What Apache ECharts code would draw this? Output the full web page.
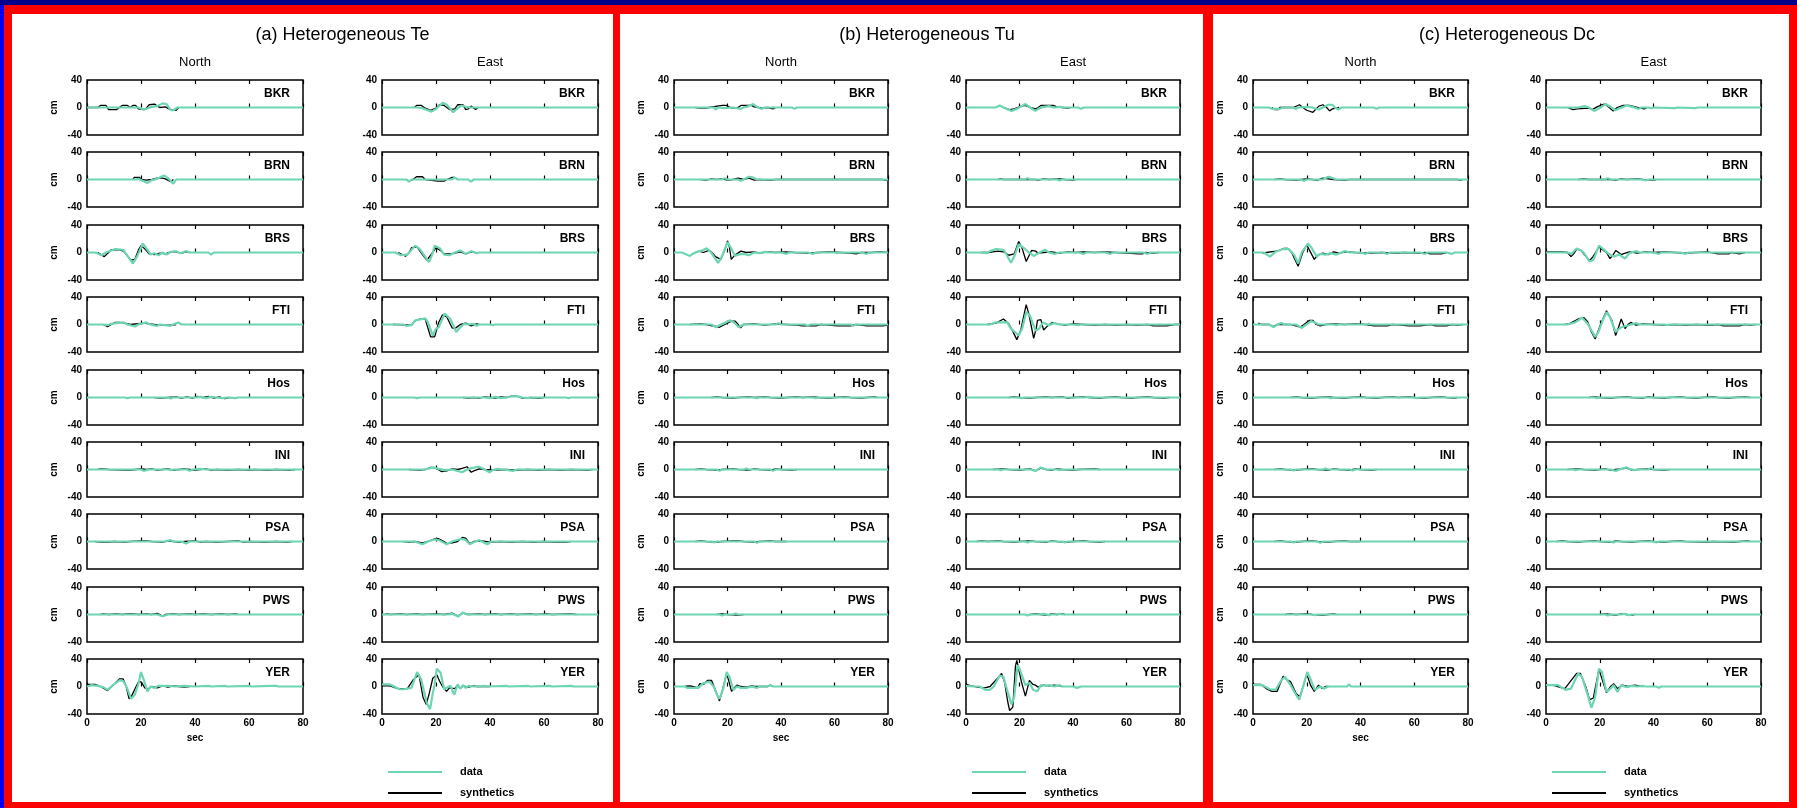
<!DOCTYPE html>
<html><head><meta charset="utf-8">
<script src="https://cdn.jsdelivr.net/npm/echarts@6/dist/echarts.min.js"></script>
<style>html,body{margin:0;padding:0;background:#00008b;}#c{width:1797px;height:808px;}</style>
</head><body><div id="c"></div>
<script>
// ---------------- DATA ----------------
const stations = ['BKR','BRN','BRS','FTI','Hos','INI','PSA','PWS','YER'];
const panelTitles = ['(a) Heterogeneous Te','(b) Heterogeneous Tu','(c) Heterogeneous Dc'];
const componentNames = ['North','East'];
const xTickValues = [0,20,40,60,80];
const yTickLabels = ['-40','0','40'];
const legendNames = ['data','synthetics'];

// (a) Heterogeneous Te — North
const teNorthData = [
 [[0,0],[19,0],[21,-3],[22,-2],[24,1],[26,2],[28,6],[29.5,5],[31,-4],[32,-4],[33.5,0],[80,0]],
 [[0,0],[18,0],[19,1],[22.4,-5],[24,-1],[26,1],[28.5,6],[30,2],[32,-6],[33,0],[80,0]],
 [[0,0],[3,0],[5.4,-4],[7,0],[9,3],[10.5,5],[13.4,4],[15,-5],[17,-16],[18.5,-6],[20.7,13],[22,6],[23.6,-3],[25,-1],[26.5,-4],[28,0],[29.5,-3],[31,1],[33,2],[34.5,-1],[36.7,2],[38,0],[45,0],[46,-3],[47,0],[80,0]],
 [[0,0],[6,0],[7.6,-1],[9,1],[11,2],[13.5,3],[15,0],[17.8,-3],[19,0],[22,3],[23.5,0],[25.8,-2],[27,0],[31,-2],[32,0],[33.8,3],[35,0],[52,0],[52.7,-2],[53.5,0],[64.5,0],[65,-2],[65.5,0],[80,0]],
 [[0,0],[14,0],[15,-1],[16,0],[30,0],[31,-1.5],[32,0],[40,0],[42,1],[44,-1],[46,1],[48,0],[50,-1],[52,0],[55,-1],[56,0],[80,0]],
 [[0,0],[20,0],[21,-2],[23,0],[30,0],[31,-1],[32,0],[37,0],[38,-2],[39,0],[42,1],[44,0],[80,0]],
 [[0,0],[29,0],[30.8,2],[32,0],[35,0],[36.7,-3],[38,0],[80,0]],
 [[0,0],[26,0],[28,-2.5],[30,0],[80,0]],
 [[0,0],[1.7,2],[4,1],[6,-1],[7.6,-5],[10,3],[12,9],[13.4,8],[14.8,-2],[16.3,-18],[17.7,-12],[19,3],[20,21],[21,10],[22.4,-7],[23.5,0],[25,-2],[26.5,1],[30,1],[33,0],[36,1],[40,0],[45,1],[46,0],[51,1],[52,0],[60,1],[61,0],[68,1],[70,1],[71,0],[80,0]]
];
const teNorthSynth = [
 [[0,0],[4,0],[5,3],[7,3],[8,-3],[11,-3],[12,0],[13,3],[15,3],[16,0],[17,3],[18,3],[19,-2],[21,-3],[22,-1],[23,4],[25,5],[26,2],[27,0],[29,1],[31,-3],[33,-4],[34,0]],
 [[17,0],[17.5,3],[19.5,3],[20,0],[22,-1],[24,0],[26,2],[28,2],[29,1],[31,-3],[32,0]],
 [[4,0],[6.4,-6],[8,0],[9,4],[12,4],[13.5,2],[16.3,-11],[17.7,-10],[19,3],[20,10],[21.5,5],[23,-2],[25,-3],[27,-1],[29,-2],[31,1],[33,1],[35,-1],[36.7,1],[38,0]],
 [[6,0],[7.6,-3],[9,0],[10.5,3],[12,3],[14,2],[16,0],[21,2],[23,1],[25,0],[30,-1],[32,-1],[33,0]],
 [[25,0],[27,-1],[30,0],[33,1],[35,-1],[37,1],[39,-1],[41,1.5],[43,0],[45,1.5],[47,-1],[49,1],[51,-1.5],[53,0]],
 [[4,0],[5,1],[6,1],[8,0],[14,-1],[16,-1],[18,0],[20,1],[22,0],[24,1],[26,-1],[28,0],[30,1],[32,-1],[34,0],[36,1],[38,0],[40,-1],[42,0],[44,1],[46,-1],[48,0],[52,-1],[56,0],[60,-1],[62,0],[67,-1],[70,0],[75,-1],[77,0]],
 [[3,0],[5,-1],[8,-1],[10,0],[14,-1],[16,0],[20,1],[22,1],[24,0],[28,-1],[30,1],[32,0],[34,-1],[36,0],[40,1],[42,-1],[44,0],[48,-1],[52,0],[56,1],[58,-1],[60,0],[66,-1],[70,0],[74,-1],[76,0]],
 [[5,0],[6,1],[8,0],[11,1],[13,0],[15,1],[17,1],[19,0],[22,1],[24,0],[26,1.5],[27,0],[28,-3],[29,0],[32,1],[34,0],[38,1],[40,0],[43,1],[46,0],[50,1],[52,0],[55,1],[56,0]],
 [[0,3],[3,3],[5,0],[7.6,-6],[10.5,5],[12,11],[13.4,11],[14.5,0],[15.6,-18],[16.5,-14],[17.7,-4],[19.2,8],[20.2,6],[21.4,-2],[22.5,-4],[24,0],[26,-2],[28,1],[30,-1],[32,1],[34,0],[36,-1],[38,0]]
];
// (a) Heterogeneous Te — East
const teEastData = [
 [[0,0],[13,0],[15,-1],[18.3,-6],[20,-2],[22.5,7],[24,4],[26.4,-7],[28,-1],[29.5,3],[31,1],[33,0],[80,0]],
 [[0,0],[9,0],[10,-3],[11,0],[26,0],[26.8,3],[28,0],[32,0],[32.9,-3],[34,0],[80,0]],
 [[0,0],[5,0],[7,-4],[9.4,-3],[12.3,10],[14,5],[17.4,-14],[18.5,-4],[19.5,10],[21.5,6],[23,-3],[25,-4],[27,0],[29,3],[31,-2],[33,2],[35,-1],[36,0],[80,0]],
 [[0,0],[8,0],[9,-2],[11,-1],[12.3,6],[16,9],[17,3],[18.8,-16],[20,-6],[21,-4],[23.2,16],[25.3,8],[27.5,-11],[29,-4],[30.4,1],[32,0],[34,1],[35,-2],[36,0],[40,0],[41,-1],[42,0],[64,0],[64.4,-2],[65,0],[80,0]],
 [[0,0],[12,0],[13,-1],[14,0],[38,0],[40,-1],[42,1],[44,-1],[46,0],[48,1.5],[50,2],[52,0],[54,-1],[56,0],[68,0],[69,-1],[70,0],[80,0]],
 [[0,0],[16,0],[19,3],[21,1],[23,-1],[26,0],[29.7,-4],[31,-1],[33,2],[36,4],[38,0],[39.8,-4],[41,-1],[43,1],[45,0],[48.5,-2],[50,0],[80,0]],
 [[0,0],[12,0],[15,-4],[17,0],[19.5,3],[21,2],[24,-4],[26,0],[29.5,4],[31,2],[32.5,-4],[34,-1],[36,2],[37,0],[39,-4],[40.5,0],[44,0],[80,0]],
 [[0,0],[24,0],[26,1],[28.2,-3],[30,3],[31.5,0],[80,0]],
 [[0,3],[3,3],[4.5,0],[6.5,-4],[8,-4],[10.9,-2],[13,21],[14.5,10],[16.6,-24],[17.8,-33],[18.8,-10],[19.5,3],[20.3,26],[21.7,20],[23,-4],[25.3,1],[26.8,-12],[28,3],[29,-3],[30,2],[31,-2],[32,1],[34,0],[38,1],[39,0],[46,1],[47,0],[54,1],[55,0],[62,1],[63,0],[70,1],[71,0],[80,0]]
];
const teEastSynth = [
 [[12,0],[12.8,3],[14.6,3],[16,-1],[18,-4],[20,-1],[21.3,4],[23,3],[25,-3],[27,-2],[28,4],[30,4],[31,-3],[32,-2],[33,2],[34.7,-3],[35.5,0]],
 [[9,0],[10,-2],[11,-1],[12.8,4],[15,4],[16,0],[20.7,-2.5],[23,-2.5],[24,0],[26,3],[27,3],[28,0]],
 [[6,0],[8.7,-5.5],[10,0],[11,7],[13,8],[15,-3],[16.6,-11],[18,-4],[20,7],[22,2],[23,-2],[25,-2],[27,-1],[29,1],[31,-2],[33,1],[34.5,0]],
 [[4,0],[5,0],[10.9,-1],[12,5],[14,8],[16,8],[18,-18],[19.5,-18],[21,3],[22.4,14],[24,11],[26,-5],[27,-6],[29,0],[31,2],[33,-2],[35,1],[36,0]],
 [[30,0],[32,-1],[34,0],[36,-1],[38,1],[40,0],[42,-1],[44,1],[46,0],[48,2],[50,2],[52,-1],[55,0],[58,-1],[60,0]],
 [[10,0],[14,-1],[16,0],[18,3],[20,2],[22,-3],[24,-2],[26,1],[28,0],[30,2],[31.5,4],[33,-4],[34,-2],[36,1],[38,0],[42,-1],[46,0],[50,-1],[54,0],[58,-1],[62,0],[66,-1],[70,0],[76,-1],[78,0]],
 [[8,0],[10,-1],[12,0],[15,-2],[17,0],[19.5,4],[21,4],[23,0],[24,-3],[26,-2],[28,0],[29.7,6],[31,5],[32.5,-3],[34,0],[37,1],[40,-1],[44,0],[48,-1],[52,0],[56,-1],[60,0],[64,-1],[68,-1],[70,0]],
 [[1,0],[2,1],[3,0],[7,1],[9,0],[13,1],[15,0],[20,1],[23,0],[26,2],[28,-2],[29,0],[30,2],[32,0],[36,1],[38,0],[42,1],[44,0],[48,1],[50,0],[55,1],[57,0],[61,1],[63,0],[70,1],[72,0]],
 [[0,1],[3,1],[5.8,-3],[9.4,-3],[11.6,10],[13.7,17],[15.2,-16],[16.4,-26],[17.5,-10],[18.8,12],[20.3,17],[21.3,8],[22.4,0],[23.9,-7],[25,-2],[27,-3],[28,2],[29,-3],[30,1],[32,-1],[34,1],[35,0],[40,0]]
];

// (b) Heterogeneous Tu — North
const tuNorthData = [
 [[0,0],[9,0],[9.6,-2],[11,0],[15,0],[15.5,-3],[16.5,0],[19,-1],[22,0],[25,-2],[26,0],[28,2],[29.6,5],[31,1],[32.6,-2],[34,0],[44,0],[45,-2],[46,0],[80,0]],
 [[0,0],[18,0],[19,2],[20,0],[24,0],[25,-2],[26,0],[28,4],[29.5,3],[31,0],[80,0]],
 [[0,0],[3,0],[5.9,-5],[7,-2],[8.7,1],[10.5,3],[12.2,6],[13.5,2],[16.5,-15],[17.9,-6],[20,15],[21.4,6],[22.8,-5],[24,-3],[26,-2],[28,-4],[30,0],[32,-1],[34,1],[36,0],[40,0],[42,-2],[43,0],[50,0],[52,-2],[53,0],[60,0],[61,-1],[62,0],[70,0],[72,-2],[73,0],[80,0]],
 [[0,0],[14,0],[15.7,-4],[17,-1],[19.3,3],[21,6],[22.5,3],[24.2,-4],[26,0],[38,0],[39,2],[40,0],[49,0],[50,-2],[51,0],[66,0],[67,-2],[68,0],[80,0]],
 [[0,0],[30,0],[31,-1],[32,0],[52,0],[53,-1],[54,0],[80,0]],
 [[0,0],[16,0],[17,-2],[18,0],[26,0],[27,1.5],[28,0],[36,0],[37,-2],[38,0],[80,0]],
 [[0,0],[14,0],[15,-1.5],[16,0],[30,0],[31,-2],[32,0],[80,0]],
 [[0,0],[17,0],[18,-1.5],[19,0],[22,0],[23,1.5],[24,0],[80,0]],
 [[0,0],[4,0],[5,-2],[9,-2],[11,5],[13.3,7],[14.8,0],[16.3,-14],[17,-18],[18.5,-2],[19.7,21],[20.7,14],[22.2,-5],[23.5,0],[25,-2],[27,-2],[29,0],[31,-2],[32,0],[35,0],[36,2],[37,0],[80,0]]
];
const tuNorthSynth = [
 [[8,0],[9.6,-1],[12,-1],[13,0],[18,3],[19.5,3],[21,0],[22,-1],[24,0],[25,3],[28.9,3],[30,1],[31.5,0],[33,-1],[35,0],[37,-2],[38,0]],
 [[10,0],[12,-1],[14,1],[16,0],[18,1],[20,-1],[22,0],[24,2],[26,0],[28,2],[30,-1],[32,0],[36,-1],[38,0],[78,0],[79,-1],[80,0]],
 [[8,0],[9.4,2],[10,2],[11,0],[13,3],[14,1],[15.5,-6],[17.5,-10],[19,4],[20,17],[20.7,8],[21.4,-10],[22.5,-5],[23.5,-2],[25,2],[27,0],[30,1],[32,-1],[35,1],[38,0],[42,1],[45,0],[50,-1],[54,0],[58,1],[62,0],[66,-1],[68,-2],[70,0],[74,0],[77,1],[80,0]],
 [[6,0],[10,1],[12,0],[17,-4],[19,0],[21.4,5],[22.8,5],[24,0],[24.9,-5],[26,0],[30,1],[34,-1],[38,1],[42,0],[46,-1],[48,-2],[53,-2],[55,0],[58,-1],[61,-2],[66,-2],[68,0],[70,-1],[72,-2],[78,-2],[80,-1]],
 [[14,0],[16,1],[18,0],[22,-1],[24,0],[28,1],[30,0],[34,1],[36,0],[40,-1],[42,0],[46,1],[48,0],[52,1],[54,0],[58,-1],[60,0],[64,1],[66,0],[70,-1],[72,0],[75,1],[76,0]],
 [[8,0],[10,1],[12,0],[16,-1],[18,0],[22,1],[24,0],[28,-1],[30,1],[32,0],[36,-1],[38,1],[40,0],[44,-1],[46,0]],
 [[8,0],[10,1],[12,0],[16,-1],[18,0],[22,1],[24,1],[26,0],[30,-1],[32,0],[36,1],[38,0],[42,0]],
 [[16,0],[18,1],[20,0],[24,-1],[26,0]],
 [[4,0],[5.9,1],[7,0],[8.9,-2],[9.6,4],[11,3],[12.6,9],[14,9],[15.5,-5],[17,-21],[18,-7],[19.7,19],[20.5,8],[21.5,-7],[22.5,-2],[23.5,2],[25,0],[27,-1],[29,1],[30,0],[35,0],[36,2],[37,0]]
];
// (b) Heterogeneous Tu — East
const tuEastData = [
 [[0,0],[11,0],[12.6,3],[14,0],[17,-5],[19,-2],[22.2,5],[24,0],[25.9,-5],[27,-2],[29,1],[31,2],[33,0],[35,1],[37,0],[42,0],[43,-2],[44,0],[53.5,0],[54,-2],[54.5,0],[61.5,0],[62,-2],[62.5,0],[80,0]],
 [[0,0],[22,0],[23,2],[24,0],[34,0],[35,-1.5],[36,0],[80,0]],
 [[0,0],[6,0],[7.7,-1],[9,2],[11.2,5],[14,4],[15.3,-4],[16.8,-15],[18,-6],[19.7,12],[21.8,6],[23.2,1],[25.3,-5],[27,-1],[29.5,4],[31,0],[33,-2],[35,0],[42,0],[44,-2],[45,0],[52,0],[54,-2],[55,0],[66,0],[68,-2],[69,0],[80,0]],
 [[0,0],[9,0],[11,3],[15.4,3],[16.8,-6],[19.7,-16],[21,-6],[22.5,18],[23.9,13],[26,-9],[27.4,-6],[28.8,3],[31,-1],[33,2],[35,0],[40,0],[42,-1],[43,0],[80,0]],
 [[0,0],[20,0],[21,-1],[22,0],[44,0],[46,1],[48,0],[80,0]],
 [[0,0],[12,0],[13,-1],[14,0],[24,0],[26,-2],[28,3],[30,0],[34,0],[35,-1],[36,0],[80,0]],
 [[0,0],[22,0],[23,-1.5],[24,0],[36,0],[37,-1.5],[38,0],[80,0]],
 [[0,0],[22,0],[23,-1.5],[24,0],[28,0],[29,1],[31,-1],[32,0],[34,0],[35,1],[36,0],[80,0]],
 [[0,1],[3,0],[5,0],[7.4,-5],[8.9,-5],[10.4,0],[12.6,16],[14,14],[15.5,-7],[17,-26],[18,-16],[19.3,31],[20,26],[22.2,2],[23.7,5],[25.2,-5],[26.7,-7],[28,2],[30,1],[31,2],[33,0],[35,2],[36,0],[40,0],[41.5,-2],[43,0],[80,0]]
];
const tuEastSynth = [
 [[14,0],[16.3,-3],[18,-2],[20,1],[22,3],[24,0],[26,-2],[27,0],[28,3],[32.6,3],[34,1],[36,0],[38,-1],[39,0]],
 [[12,0],[13,1],[14,0],[26,0],[27,-1],[29,1],[31,0],[35,1],[37,0],[40,-1],[41,0]],
 [[5.6,0],[8.4,0],[10,1],[12,2],[14,1],[16,-4],[18,-2],[19.7,16],[21,6],[22.5,-13],[23.5,-5],[24.5,3],[26,2],[27,-1],[29,0],[32,1],[35,-1],[38,1],[41,0],[44,1],[48,0],[52,1],[56,0],[60,-1],[64.6,-2],[66,-2],[67,0],[70,-1],[72,0]],
 [[8,0],[11.2,2],[14,8],[16,1],[17.5,-10],[19,-22],[20.5,-8],[22.5,29],[23.5,15],[25.3,-20],[26.3,-5],[26.7,6],[28,7],[29,-8],[30.5,-2],[32.3,3],[34,1],[37,-1],[40,1],[44,0],[48,-1],[52,0],[56,-1],[60,0],[64,-1],[68,0],[70,-2],[75,-2],[78,0],[80,0]],
 [[16,0],[18,1],[20,0],[24,-1],[26,0],[30,1],[32,0],[36,1],[38,-1],[40,0],[44,1],[46,0],[50,-1],[52,0],[56,1],[58,0],[62,-1],[64,0],[68,1],[70,0],[74,-1],[76,0]],
 [[10,0],[14,1],[16,0],[20,-1],[22,0],[24,1],[26,-2],[28,2],[30,0],[32,-1],[34,1],[36,0],[40,-1],[42,0],[48,1],[50,0]],
 [[4,0],[6,1],[8,0],[12,1],[14,0],[18,-1],[20,0],[24,1],[26,0],[30,-1],[32,1],[34,0],[38,-1],[40,0],[44,1],[46,0],[50,-1],[52,0]],
 [[24,0],[26,1],[28,0],[30,-1],[32,1],[34,0],[36,1],[37,0]],
 [[0,3],[2,1],[4.4,-1],[7,-2],[9,0],[11.8,12],[13.3,19],[14.5,5],[15.5,-20],[16.3,-35],[17.5,-30],[18.5,30],[19,38],[20.7,7],[22.2,-14],[23,-2],[23.7,9],[25,3],[25.9,2],[27,-1],[29,2],[31,1],[33,2],[35,1],[36,0]]
];

// (c) Heterogeneous Dc — North
const dcNorthData = [
 [[0,0],[6,0],[7,-2],[10,-2],[11,0],[15,0],[15.8,-2],[17,0],[20,1],[22,0],[24.5,-3],[26,0],[28,4],[29.5,4],[30.5,0],[31.7,-3],[33,0],[45,0],[46,-2],[47,0],[80,0]],
 [[0,0],[18,0],[19,-2],[20,0],[26,0],[28,4],[29,3],[31,0],[80,0]],
 [[0,0],[4,0],[6.3,-6],[8.4,1],[11.2,5],[13.3,5],[15.4,-4],[16.8,-16],[18.2,1],[20.5,13],[21.6,8],[23.7,-6],[25,-2],[27,-3],[29,-1],[31,-3],[34.2,2],[36,0],[40,0],[42,-2],[43,0],[48,0],[50,-2],[51,0],[62,0],[64,-2],[65,0],[72,0],[74,-2],[75,0],[80,0]],
 [[0,0],[6,0],[7.7,-4],[9,0],[10.5,2],[12,0],[16,0],[18.2,-5],[19.5,-1],[21.6,5],[23,3],[24.5,0],[30,0],[31,-1],[32,0],[42,0],[43,1],[44,0],[80,0]],
 [[0,0],[28,0],[29,-1],[30,0],[60,0],[61,-1],[62,0],[80,0]],
 [[0,0],[14,0],[15,-1.5],[16,0],[26,0],[27,1.5],[28,0],[36,0],[37,-1.5],[38,0],[80,0]],
 [[0,0],[14,0],[15,-1.5],[16,0],[24,0],[25,-2],[26,0],[80,0]],
 [[0,0],[22,0],[23,-1],[24,0],[80,0]],
 [[0,2],[3.5,2],[6.3,-4],[8.4,-5],[10.5,9],[11.9,14],[14,2],[16,-12],[17.2,-19],[18.8,2],[20.2,21],[21.6,9],[23,-5],[25,0],[26.5,-3],[28,0],[30,0],[35,0],[35.6,3],[36.5,0],[80,0]]
];
const dcNorthSynth = [
 [[7,0],[8,-3],[9.4,-3],[10,0],[15,0],[17.3,4],[18.5,0],[20,-4],[22.3,-7],[23.5,-2],[24.5,2],[26,4],[27.4,0],[28.5,-5],[29.5,-2],[31,-1],[32,0]],
 [[8,0],[10,1],[12,0],[16,-1],[18,0],[20,1],[22,0],[24,-1],[26,2],[28,1],[30,0],[34,-1],[36,0],[76,0],[77,-1],[78,0]],
 [[3.5,-1],[5,0],[8.4,2],[9.8,3],[11.5,6],[13,6],[14.5,-1],[16.8,-20],[18.5,0],[20,11],[21.2,2],[22.8,-10],[24,-4],[26,-1],[28,-3],[30,1],[32,-1],[35,1],[38,0],[44,-1],[48,0],[54,-1],[56,0],[62,-1],[64,0],[66,-2],[70,-2],[72,0]],
 [[2,2],[3,0],[6,0],[7.5,-3],[9,0],[14,0],[17.5,-4],[19,0],[21,6],[22.3,6],[23.5,0],[25,-2],[27,0],[30,1],[34,0],[38,1],[42,0],[45,-2],[50,-2],[52,0],[55,-1],[58,-2],[62,-2],[66,0],[68,-2],[72,-2],[74,0],[76,-1],[78,0]],
 [[14,0],[16,1],[18,0],[22,-1],[24,0],[28,1],[30,0],[34,-1],[36,0],[40,1],[42,0],[46,-1],[48,0],[52,1],[54,0],[58,1],[60,0],[64,-1],[66,0],[70,1],[72,0],[75,-1],[76,0]],
 [[8,0],[10,1],[12,0],[16,-1],[18,0],[22,1],[24,0],[28,-1],[30,1],[32,0],[36,-1],[38,1],[40,0],[44,-1],[46,0]],
 [[8,0],[10,1],[12,0],[16,-1],[18,0],[22,1],[24,0],[28,-1],[30,0],[34,1],[36,0],[40,0]],
 [[12,0],[14,1],[16,0],[20,1],[22,0],[26,-1],[28,0],[30,1],[31,0]],
 [[0,3],[3,3],[4.9,-3],[7,-7],[9,-7],[11.2,15],[12.5,10],[14,7],[16,-10],[17.4,-15],[18.5,-2],[20,18],[21.4,2],[22.8,-7],[24.4,2],[25.7,-3],[27,0],[28,0]]
];
// (c) Heterogeneous Dc — East
const dcEastData = [
 [[0,0],[12,0],[14.3,2],[16,0],[17.9,-5],[19.5,-2],[22.2,5],[24,1],[25.8,-4],[27.5,-1],[30,3],[32,1],[34.4,-2],[35.5,0],[38,0],[39,-1],[40,0],[48,-1],[49,0],[55.5,-1],[56.5,0],[80,0]],
 [[0,0],[22,0],[23,2],[24,0],[36,0],[37,-1.5],[38,0],[80,0]],
 [[0,0],[8,0],[9.5,-2],[11.4,6],[13,3],[14,0],[16.2,-13],[17.6,-11],[19.7,10],[21,6],[23,-1],[25.2,-6],[27.3,-3],[29.4,-9],[31,-1],[33.5,2],[35,0],[40,0],[42,-2],[43,0],[50,0],[52,-2],[53,0],[80,0]],
 [[0,0],[8,0],[10.7,3],[12,6],[13.4,10],[15.5,1],[17,-9],[18.3,-18],[19.5,-11],[21,5],[22.5,18],[23.8,11],[25.9,-11],[27,-7],[28,-4],[30.8,-1],[33.5,2],[35,0],[44,0],[45,-1],[46,0],[80,0]],
 [[0,0],[18,0],[19,-1],[20,0],[46,0],[47,1],[48,0],[80,0]],
 [[0,0],[10,0],[11,-1],[12,0],[24,0],[26,-2],[28,1],[30,3],[31,1],[33,-1],[34,0],[38,0],[39,2],[40,0],[80,0]],
 [[0,0],[24,0],[25,-1.5],[26,0],[40,0],[41,-1.5],[42,0],[80,0]],
 [[0,0],[22,0],[23,-1.5],[24,0],[28,0],[29,1],[31,-1],[32,0],[80,0]],
 [[0,2],[4.5,2],[7.2,-5],[9.3,-3],[12,19],[13.4,14],[15.5,-12],[16.9,-31],[18.3,-15],[19.7,26],[20.8,21],[22.5,-8],[24,-3],[25.2,2],[26.6,-8],[28,2],[30,-1],[32,1],[34,0],[36,1],[37,0],[41,0],[42,-2],[43,0],[80,0]]
];
const dcEastSynth = [
 [[8,0],[10,-3],[11.5,-2],[12,0],[16,-1],[17.2,-3],[19,1],[20.8,4],[22,5],[23.5,0],[25,-5],[26.5,0],[28.7,3],[31,3],[34,0],[36.6,-2],[37.5,0]],
 [[12,0],[14,1],[16,0],[24,0],[26,-1],[28,1],[30,0],[34,1],[36,0],[40,-1],[41,0]],
 [[0,1],[6,1],[8,0],[9.3,-6],[10.3,-2],[11.4,5],[13,3],[16.2,-12],[17.5,-6],[19.7,8],[21,4],[22.5,0],[23.8,-9],[25,-3],[26,3],[28,-3],[29.5,-1],[31,1],[34,-1],[37,1],[40,0],[44,1],[48,0],[52,-1],[56,0],[60,1],[64,-2],[68,-2],[69,0],[72,-2],[74,0]],
 [[7,0],[8.6,1],[12,8],[14.1,10],[15.5,4],[16.9,-11],[18.3,-21],[20.4,1],[22.5,20],[24.5,6],[25.9,-16],[27,-4],[28,8],[29.4,-6],[30.5,0],[31.5,3],[33.5,-1],[36,1],[40,0],[44,-1],[48,0],[52,-1],[56,0],[60,-1],[62,-1],[64,0],[66,-2],[72,-2],[74,0],[76,-1],[78,0]],
 [[16,0],[18,1],[20,0],[24,-1],[26,0],[30,1],[32,0],[36,-1],[38,1],[40,0],[44,-1],[46,0],[50,1],[52,0],[56,-1],[58,0],[62,1],[64,0],[68,-1],[70,0],[74,1],[76,0]],
 [[8,0],[12,1],[14,0],[18,-1],[20,0],[22,1],[24,-1],[26,0],[28,1],[30,2],[32,-1],[34,0],[38,1],[40,0],[44,-1],[46,0]],
 [[4,0],[6,1],[8,0],[12,-1],[14,0],[18,1],[20,0],[24,-1],[26,1],[28,0],[32,-1],[34,0],[38,1],[40,0],[44,-1],[46,0],[50,1],[52,0],[60,-1],[62,0],[70,-1],[72,0],[75,1],[76,0]],
 [[20,0],[22,1],[24,0],[26,-1],[28,1],[30,0],[32,-1],[33,0]],
 [[0,2],[2.5,2],[5,-1],[7,-3],[11.4,19],[12.8,19],[14.8,0],[16.2,-19],[17.6,-17],[19.7,25],[21,9],[22.5,-9],[24,0],[25.2,4],[26.6,-3],[28.5,2],[30.5,0],[33,2],[36,0]]
];

// ---------------- LAYOUT / STYLE ----------------
const GREEN = '#6dd6b0';
const FONT = 'Liberation Sans, Arial, sans-serif';
const rowTop0 = 80, rowPitch = 72.4, boxH = 55;
const northLeft = [87, 674, 1253];
const eastLeft = [382, 966, 1546];
const boxW = [216, 214, 215];

const panelSets = [
  [[teNorthData, teNorthSynth], [teEastData, teEastSynth]],
  [[tuNorthData, tuNorthSynth], [tuEastData, tuEastSynth]],
  [[dcNorthData, dcNorthSynth], [dcEastData, dcEastSynth]]
];

const grids = [], xAxes = [], yAxes = [], series = [], texts = [];
let g = 0;
for (let p = 0; p < 3; p++) {
  const w = boxW[p];
  texts.push({type:'text', z: 50, x: (northLeft[p] + eastLeft[p] + w) / 2, y: 35,
    style:{text: panelTitles[p], fill:'#000', font: '18px ' + FONT, align:'center', verticalAlign:'middle', textAlign:'center', textVerticalAlign:'middle'}});
  for (let c = 0; c < 2; c++) {
    const left = c === 0 ? northLeft[p] : eastLeft[p];
    texts.push({type:'text', z: 50, x: left + w / 2, y: 62,
      style:{text: componentNames[c], fill:'#000', font: '13px ' + FONT, align:'center', verticalAlign:'middle', textAlign:'center', textVerticalAlign:'middle'}});
    const [dataSet, synthSet] = panelSets[p][c];
    for (let r = 0; r < stations.length; r++) {
      const top = Math.round(rowTop0 + rowPitch * r);
      const last = r === stations.length - 1;
      grids.push({left, top, width: w, height: boxH, show: true, borderColor: '#000', borderWidth: 1.5, backgroundColor: 'transparent'});
      xAxes.push({gridIndex: g, type: 'value', min: 0, max: 80, interval: 20, position: 'bottom',
        axisLine: {show: false}, splitLine: {show: false},
        axisTick: {show: true, inside: true, length: 4, lineStyle: {color: '#000', width: 1.2}},
        axisLabel: {show: last, color: '#000', fontSize: 10, fontWeight: 'bold', fontFamily: FONT, margin: 4},
        name: (last && c === 0) ? 'sec' : '', nameLocation: 'middle', nameGap: 19,
        nameTextStyle: {color: '#000', fontSize: 10, fontWeight: 'bold', fontFamily: FONT}});
      xAxes.push({gridIndex: g, type: 'value', min: 0, max: 80, interval: 20, position: 'top',
        axisLine: {show: false}, splitLine: {show: false}, axisLabel: {show: false},
        axisTick: {show: true, inside: true, length: 4, lineStyle: {color: '#000', width: 1.2}}});
      yAxes.push({gridIndex: g, type: 'value', min: -40, max: 40, interval: 40,
        axisLine: {show: false}, splitLine: {show: false}, axisTick: {show: false},
        axisLabel: {color: '#000', fontSize: 10, fontWeight: 'bold', fontFamily: FONT, margin: 5,
          formatter: v => yTickLabels[Math.round(v / 40) + 1]},
        name: c === 0 ? 'cm' : '', nameLocation: 'middle', nameGap: 28, nameRotate: 90,
        nameTextStyle: {color: '#000', fontSize: 10, fontWeight: 'bold', fontFamily: FONT}});
      series.push({type: 'line', name: legendNames[1], xAxisIndex: 2 * g, yAxisIndex: g, data: synthSet[r],
        showSymbol: false, symbol: 'none', silent: true, z: 3, animation: false,
        lineStyle: {color: '#000', width: 1.3}, itemStyle: {color: '#000'}});
      series.push({type: 'line', name: legendNames[0], xAxisIndex: 2 * g, yAxisIndex: g, data: dataSet[r],
        showSymbol: false, symbol: 'none', silent: true, z: 4, animation: false,
        lineStyle: {color: GREEN, width: 2.2}, itemStyle: {color: GREEN}});
      texts.push({type: 'text', z: 50, x: left + w - 13, y: top + 14,
        style: {text: stations[r], fill: '#000', font: 'bold 12px ' + FONT, align: 'right', verticalAlign: 'middle', textAlign: 'right', textVerticalAlign: 'middle'}});
      g++;
    }
  }
}

const bgRects = [
  {type: 'rect', z: -100, shape: {x: 0, y: 5, width: 4, height: 803}, style: {fill: '#0000ee'}},
  {type: 'rect', z: -99, shape: {x: 4, y: 5, width: 1793, height: 803}, style: {fill: '#ff0000'}},
  {type: 'rect', z: -98, shape: {x: 12, y: 14, width: 601, height: 788}, style: {fill: '#ffffff'}},
  {type: 'rect', z: -98, shape: {x: 620, y: 14, width: 583, height: 788}, style: {fill: '#ffffff'}},
  {type: 'rect', z: -98, shape: {x: 1213, y: 14, width: 576, height: 788}, style: {fill: '#ffffff'}}
];

const legends = [0, 1, 2].map(p => ({
  left: eastLeft[p] + 1, top: 760, orient: 'vertical', data: legendNames, icon: 'rect',
  itemWidth: 54, itemHeight: 2, itemGap: 7, selectedMode: false,
  textStyle: {color: '#000', fontSize: 11, fontWeight: 'bold', fontFamily: FONT, padding: [0, 0, 0, 13], lineHeight: 14}
}));

const chart = echarts.init(document.getElementById('c'), null, {renderer: 'canvas'});
chart.setOption({
  animation: false,
  backgroundColor: '#00008b',
  graphic: {elements: bgRects.concat(texts)},
  legend: legends,
  grid: grids,
  xAxis: xAxes,
  yAxis: yAxes,
  series: series
});
</script>
</body></html>
